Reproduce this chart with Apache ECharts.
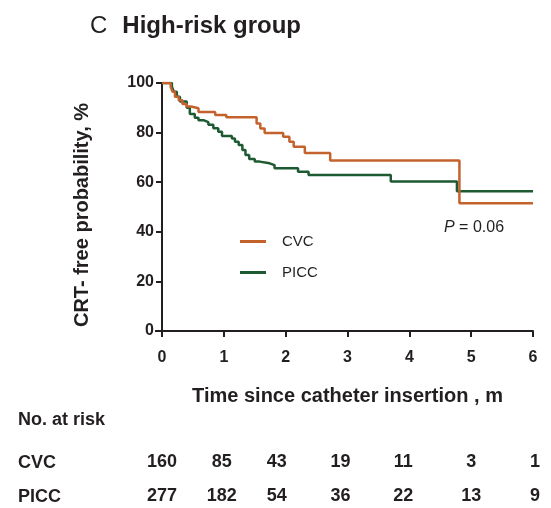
<!DOCTYPE html>
<html>
<head>
<meta charset="utf-8">
<script src="https://cdn.jsdelivr.net/npm/echarts@6/dist/echarts.min.js"></script>
<style>
html,body{margin:0;padding:0;background:#fff;}
#chart{width:551px;height:508px;}
</style>
</head>
<body>
<div id="chart"></div>
<script>
// ---- data ----
const cvcTimes = [0, 0.14, 0.17, 0.21, 0.27, 0.33, 0.40, 0.47, 0.59, 0.86, 1.04, 1.53, 1.59, 1.66, 1.96, 2.06, 2.13, 2.31, 2.72, 4.81, 6];
const cvcSurv  = [100, 98.5, 96.5, 94.5, 93, 91.5, 90.5, 89.8, 88.3, 87.1, 86.2, 83.7, 81.7, 79.8, 78.3, 76.3, 74.3, 71.8, 68.7, 51.5, 51.5];
const piccTimes = [0, 0.16, 0.19, 0.24, 0.29, 0.40, 0.45, 0.53, 0.59, 0.67, 0.75, 0.83, 0.91, 0.97, 1.13, 1.18, 1.24, 1.30, 1.35, 1.41, 1.50, 1.58, 1.74, 1.82, 2.20, 2.37, 3.70, 4.77, 6];
const piccSurv  = [100, 98.5, 96.5, 94.5, 92.5, 90, 87.5, 86, 85, 84.2, 83.2, 81.8, 80.3, 78.6, 77.6, 76.3, 75, 73, 71, 69.4, 68.3, 67.6, 66.9, 65.6, 64.2, 62.9, 60.3, 56.4, 56.4];
const riskTimes = [0, 1, 2, 3, 4, 5, 6];
const atRiskCVC  = [160, 85, 43, 19, 11, 3, 1];
const atRiskPICC = [277, 182, 54, 36, 22, 13, 9];
const groupNames = ['CVC', 'PICC'];
const pValueText = ' = 0.06';

// ---- layout / style ----
const FONT = "'Liberation Sans', Arial, Helvetica, sans-serif";
const INK = '#231f20';
const ORANGE = '#c4622d';
const GREEN = '#1d5a32';
const colNudge = [0, -2, -9, -7, -6, 0, 2];

const chart = echarts.init(document.getElementById('chart'), null, {renderer: 'canvas'});

function pairs(ts, vs) { return ts.map((t, i) => [t, vs[i]]); }
function riskData(row, counts) {
  return riskTimes.map((t, i) => ({
    value: [t, row, counts[i]],
    label: {offset: [colNudge[i], 0]}
  }));
}
const riskLabel = {
  show: true, position: 'inside', opacity: 1,
  formatter: p => String(p.value[2]),
  color: INK, fontWeight: 'bold', fontSize: 18, fontFamily: FONT,
  textBorderWidth: 0
};

const option = {
  animation: false,
  textStyle: {fontFamily: FONT},
  grid: [
    {left: 162, right: 18, top: 83, bottom: 177},
    {left: 162, right: 18, top: 462, height: 34}
  ],
  xAxis: [
    {
      type: 'value', min: 0, max: 6, interval: 1, gridIndex: 0,
      axisLine: {lineStyle: {color: INK, width: 2}},
      axisTick: {show: true, length: 6, lineStyle: {color: INK, width: 2}},
      axisLabel: {color: INK, fontWeight: 'bold', fontSize: 16, margin: 19, fontFamily: FONT},
      splitLine: {show: false},
      name: 'Time since catheter insertion , m',
      nameLocation: 'middle', nameGap: 55,
      nameTextStyle: {color: INK, fontWeight: 'bold', fontSize: 20, fontFamily: FONT}
    },
    {type: 'value', min: 0, max: 6, gridIndex: 1, show: false}
  ],
  yAxis: [
    {
      type: 'value', min: 0, max: 100, interval: 20, gridIndex: 0,
      axisLine: {show: true, lineStyle: {color: INK, width: 2}},
      axisTick: {show: true, length: 6, lineStyle: {color: INK, width: 2}},
      axisLabel: {color: INK, fontWeight: 'bold', fontSize: 16, margin: 8, fontFamily: FONT},
      splitLine: {show: false}
    },
    {type: 'category', data: ['PICC', 'CVC'], boundaryGap: false, gridIndex: 1, show: false}
  ],
  legend: {
    data: groupNames,
    orient: 'vertical',
    left: 240, top: 234, padding: 0,
    itemWidth: 26, itemHeight: 3, itemGap: 16,
    icon: 'rect',
    textStyle: {color: INK, fontSize: 15, fontFamily: FONT, padding: [0, 0, 0, 11]}
  },
  series: [
    {
      name: groupNames[0], type: 'line', step: 'end', data: pairs(cvcTimes, cvcSurv),
      showSymbol: false, symbol: 'none', color: ORANGE,
      lineStyle: {color: ORANGE, width: 2.5}, z: 3
    },
    {
      name: groupNames[1], type: 'line', step: 'end', data: pairs(piccTimes, piccSurv),
      showSymbol: false, symbol: 'none', color: GREEN,
      lineStyle: {color: GREEN, width: 2.5}, z: 2
    },
    {
      name: 'CVC at risk', type: 'scatter', xAxisIndex: 1, yAxisIndex: 1,
      symbolSize: 2, itemStyle: {color: 'rgba(255,255,255,0)'},
      label: riskLabel, emphasis: {disabled: true},
      data: riskData('CVC', atRiskCVC)
    },
    {
      name: 'PICC at risk', type: 'scatter', xAxisIndex: 1, yAxisIndex: 1,
      symbolSize: 2, itemStyle: {color: 'rgba(255,255,255,0)'},
      label: riskLabel, emphasis: {disabled: true},
      data: riskData('PICC', atRiskPICC)
    }
  ],
  graphic: [
    {
      type: 'text', left: 90, top: 14,
      style: {
        text: '{c|C}{h|High-risk group}',
        rich: {
          c: {fontSize: 24, fontFamily: FONT, fill: INK, color: INK, padding: [0, 15, 0, 0]},
          h: {fontSize: 24, fontFamily: FONT, fontWeight: 'bold', fill: INK, color: INK}
        }
      }
    },
    {
      type: 'text', x: 82, y: 215, rotation: Math.PI / 2,
      style: {
        text: 'CRT- free probability, %', fontSize: 20, fontWeight: 'bold',
        fontFamily: FONT, fill: INK, align: 'center', verticalAlign: 'middle'
      }
    },
    {
      type: 'text', left: 444, top: 220,
      style: {
        text: '{i|P}{n|' + pValueText + '}',
        rich: {
          i: {fontSize: 16, fontStyle: 'italic', fontFamily: FONT, fill: INK, color: INK},
          n: {fontSize: 16, fontFamily: FONT, fill: INK, color: INK}
        }
      }
    },
    {
      type: 'text', left: 18, top: 411,
      style: {text: 'No. at risk', fontSize: 18, fontWeight: 'bold', fontFamily: FONT, fill: INK}
    },
    {
      type: 'text', left: 18, top: 454,
      style: {text: groupNames[0], fontSize: 18, fontWeight: 'bold', fontFamily: FONT, fill: INK}
    },
    {
      type: 'text', left: 18, top: 488,
      style: {text: groupNames[1], fontSize: 18, fontWeight: 'bold', fontFamily: FONT, fill: INK}
    }
  ]
};
chart.setOption(option);

// small axis extensions at the origin (cross-shaped origin as in the reference)
const o = chart.convertToPixel({gridIndex: 0}, [0, 0]);
chart.setOption({
  graphic: option.graphic.concat([
    {type: 'line', shape: {x1: o[0] - 7, y1: o[1], x2: o[0], y2: o[1]}, style: {stroke: INK, lineWidth: 2}},
    {type: 'line', shape: {x1: o[0], y1: o[1], x2: o[0], y2: o[1] + 5}, style: {stroke: INK, lineWidth: 2}}
  ])
});
</script>
</body>
</html>
